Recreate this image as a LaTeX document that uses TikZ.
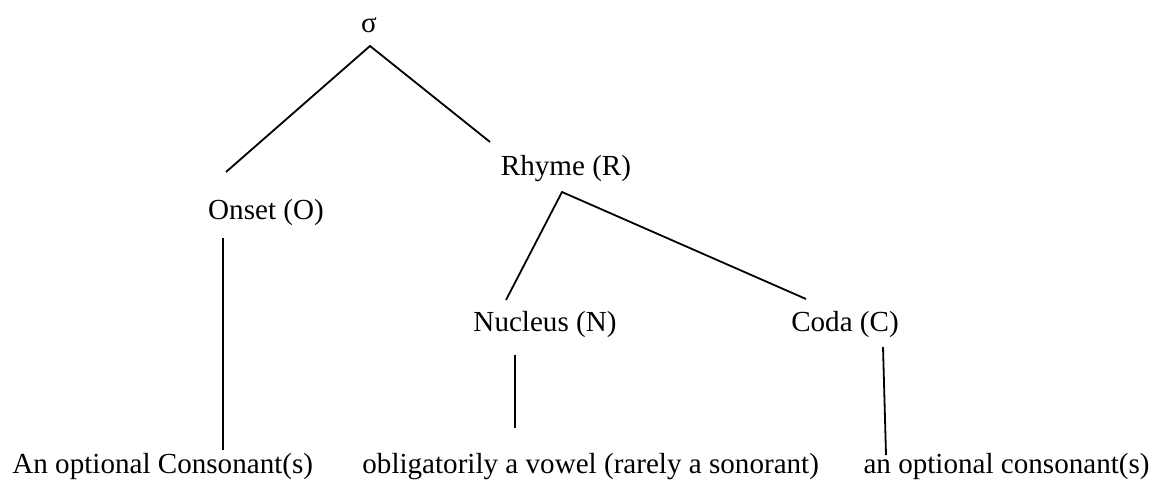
\documentclass[tikz,border=0pt]{standalone}
\usepackage{fontspec}
\setmainfont{Liberation Serif}
\usepackage{tikz}
\usetikzlibrary{positioning}
\tikzset{
  unit/.style={x=0.5pt, y=-0.5pt},
  tier/.style={inner sep=0pt, anchor=base, font=\fontsize{14.55}{17}\selectfont},
  gloss/.style={inner sep=0pt, font=\fontsize{14.55}{17}\selectfont},
  branch/.style={line width=0.9pt, black},
}

\begin{document}
\begin{tikzpicture}[unit]
  \useasboundingbox (0,0) rectangle (1154,485);
  % syllable tiers
  \node[tier] (sigma)   at (369,33)  {σ};
  \node[tier] (onset)   at (266,220) {Onset (O)};
  \node[tier] (rhyme)   at (566,176) {Rhyme (R)};
  \node[tier] (nucleus) at (545,332) {Nucleus (N)};
  \node[tier] (coda)    at (845,332) {Coda (C)};
  % what fills each slot
  \node[gloss, anchor=base west] (onsetfill) at (12,473)   {An optional Consonant(s)};
  \node[gloss, anchor=base west] (nucfill)   at (362,473)  {obligatorily a vowel (rarely a sonorant)};
  \node[gloss, anchor=base east] (codafill)  at (1150,473) {an optional consonant(s)};
  % branches
  \draw[branch] ([shift={(-40,-48)}]onset.base) -- ([shift={(1,13)}]sigma.base)
                -- ([shift={(-76,-34)}]rhyme.base);
  \draw[branch] ([shift={(-39,-32)}]nucleus.base) -- ([shift={(-4,16)}]rhyme.base)
                -- ([shift={(-39,-33)}]coda.base);
  \draw[branch] ([shift={(-43,18)}]onset.base) -- ([shift={(211,-23)}]onsetfill.base west);
  \draw[branch] ([shift={(-30,23)}]nucleus.base) -- ([shift={(153,-45)}]nucfill.base west);
  \draw[branch] ([shift={(38,15)}]coda.base) -- ([shift={(-264,-18)}]codafill.base east);
\end{tikzpicture}
\end{document}
